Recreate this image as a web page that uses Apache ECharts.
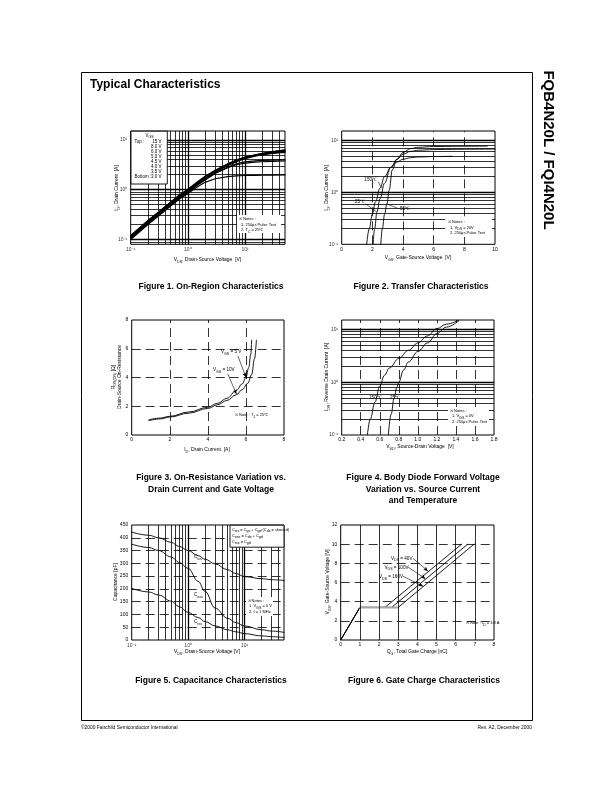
<!DOCTYPE html>
<html>
<head>
<meta charset="utf-8">
<title>FQB4N20L / FQI4N20L Typical Characteristics</title>
<script src="https://cdn.jsdelivr.net/npm/echarts@6.0.0/dist/echarts.min.js"></script>
<style>
html,body{margin:0;padding:0;background:#fff;}
#chart{width:612px;height:792px;}
</style>
</head>
<body>
<div id="chart"></div>
<script>
// ================= DATA =================
// Figure 1 : On-Region Characteristics (ID vs VDS, log-log)
const fig1Vds = [0.1,0.15,0.2,0.3,0.5,0.7,1,1.5,2,3,5,7,10,15,20,30,50];
const fig1Id_15V  = [0.12,0.18,0.24,0.35,0.56,0.77,1.02,1.45,1.85,2.45,3.3,3.9,4.5,5.0,5.35,5.8,6.3];
const fig1Id_8V   = [0.118,0.176,0.235,0.345,0.55,0.76,1.0,1.42,1.8,2.4,3.25,3.85,4.45,4.95,5.3,5.7,6.15];
const fig1Id_6V   = [0.115,0.172,0.23,0.34,0.54,0.74,0.98,1.39,1.76,2.35,3.2,3.8,4.4,4.9,5.2,5.6,6.0];
const fig1Id_5V   = [0.112,0.168,0.225,0.33,0.53,0.72,0.95,1.35,1.7,2.3,3.1,3.7,4.3,4.8,5.1,5.45,5.8];
const fig1Id_4_5V = [0.11,0.165,0.22,0.32,0.52,0.7,0.93,1.32,1.66,2.25,3.05,3.6,4.2,4.7,5.0,5.3,5.6];
const fig1Id_4V   = [0.108,0.16,0.215,0.31,0.5,0.68,0.9,1.28,1.6,2.15,2.85,3.3,3.6,3.78,3.85,3.9,3.95];
const fig1Id_3_5V = [0.105,0.157,0.21,0.305,0.49,0.67,0.88,1.25,1.56,2.1,2.75,3.15,3.4,3.55,3.62,3.7,3.75];
const fig1Id_3V   = [0.1,0.15,0.2,0.29,0.47,0.64,0.84,1.15,1.4,1.65,1.83,1.89,1.92,1.94,1.95,1.96,1.97];
const fig1LegendVgs = ['15 V','8.0 V','6.0 V','5.0 V','4.5 V','4.0 V','3.5 V','3.0 V'];
const fig1XTicks = [0.1,1,10];
const fig1YTicks = [0.1,1,10];
const decadeLabels = ['10\u207B\u00B9','10\u2070','10\u00B9'];
const fig1GridX = [0.2,0.3,0.4,0.5,0.6,0.7,0.8,0.9,1,2,3,4,5,6,7,8,9,10,20,30,40];
const fig1GridY = [0.09,0.1,0.2,0.3,0.4,0.5,0.6,0.7,0.8,0.9,1,2,3,4,5,6,7,8,9,10];

// Figure 2 : Transfer Characteristics (ID vs VGS)
const fig2Vgs_150C = [1.63,1.8,2.0,2.2,2.5,2.8,3.2,3.6,4.0,4.5,5.0,6.0,7.2];
const fig2Id_150C  = [0.1,0.2,0.38,0.65,1.2,2.0,3.0,3.8,4.3,4.6,4.75,4.85,4.9];
const fig2Vgs_25C  = [2.05,2.15,2.3,2.5,2.8,3.2,3.6,4.0,4.5,5.0,6.0,8.0,10.0];
const fig2Id_25C   = [0.1,0.2,0.42,0.75,1.5,3.0,4.3,5.4,6.1,6.4,6.6,6.7,6.75];
const fig2Vgs_m55C = [2.55,2.65,2.8,2.95,3.1,3.3,3.6,4.0,4.5,5.0,6.0,8.0,9.5];
const fig2Id_m55C  = [0.1,0.2,0.38,0.6,1.1,2.7,4.3,5.8,6.9,7.3,7.55,7.65,7.7];
const fig2XTicks = [0,2,4,6,8,10];
const fig2GridX = [2,4,6,8];
const fig2GridY = [0.2,0.3,0.4,0.5,0.6,0.7,0.8,0.9,1,2,3,4,5,6,7,8,9,10];

// Figure 3 : On-Resistance vs Drain Current
const fig3Id_5V  = [0.9,1.5,2,3,4,4.5,5,5.5,5.8,6.0,6.15,6.25,6.3];
const fig3R_5V   = [1.05,1.18,1.3,1.6,1.93,2.2,2.55,3.1,3.55,4.0,4.7,5.6,6.6];
const fig3Id_10V = [0.9,1.5,2,3,4,4.5,5,5.5,5.8,6.1,6.3,6.45,6.55];
const fig3R_10V  = [1.0,1.12,1.25,1.52,1.85,2.1,2.4,2.8,3.15,3.6,4.2,5.3,6.6];
const fig3GridX = [2,4,6];
const fig3GridY = [2,4,6];

// Figure 4 : Body Diode Forward Voltage
const fig4Vsd_150C = [0.47,0.5,0.55,0.6,0.65,0.7,0.8,0.9,1.0,1.1,1.2,1.3,1.43];
const fig4Idr_150C = [0.1,0.2,0.42,0.85,1.35,1.85,2.8,4.0,5.5,7.5,10.3,12.5,15];
const fig4Vsd_25C  = [0.69,0.72,0.75,0.78,0.8,0.85,0.9,1.0,1.1,1.2,1.3,1.43];
const fig4Idr_25C  = [0.1,0.25,0.5,0.8,1.0,1.7,2.4,3.8,5.5,8.3,11.0,14.5];
const fig4GridX = [0.4,0.6,0.8,1.0,1.2,1.4,1.6];
const fig4GridY = [0.2,0.3,0.4,0.5,0.6,0.7,0.8,0.9,1,2,3,4,5,6,7,8,9,10];

// Figure 5 : Capacitance Characteristics
const fig5Vds  = [0.1,0.2,0.3,0.5,0.7,1,1.5,2,3,5,7,10,20,30,50];
const fig5Ciss = [422,410,400,382,366,350,330,316,298,275,260,248,240,236,233];
const fig5Coss = [375,362,350,325,303,280,230,190,125,85,68,55,40,35,30];
const fig5Crss = [202,188,176,152,130,108,88,72,55,40,32,25,16,13,10];
const fig5XTicks = [0.1,1,10];
const fig5GridX = [0.2,0.3,0.4,0.5,0.6,0.7,0.8,0.9,1,2,3,4,5,6,7,8,9,10,20,30,40];
const fig5GridY = [50,100,150,200,250,300,350,400];

// Figure 6 : Gate Charge Characteristics
const fig6Qg_40V   = [0,1.0,2.31,6.31];
const fig6Vgs_40V  = [0,3.4,3.4,10];
const fig6Qg_100V  = [0,1.0,2.66,6.63];
const fig6Vgs_100V = [0,3.4,3.4,10];
const fig6Qg_160V  = [0,1.0,3.0,6.96];
const fig6Vgs_160V = [0,3.4,3.4,10];
const fig6PlateauQ = [1.0,3.0];
const fig6PlateauV = [3.4,3.4];
const fig6GridX = [1,2,3,4,5,6,7];
const fig6GridY = [2,4,6,8,10];

// ================= BUILD =================
const F = "'Liberation Sans', Arial, Helvetica, sans-serif";
const DASH = [9,5];
const TICKFONT = 5;
const zip = (xs, ys) => xs.map((x, i) => [x, ys[i]]);
const isDecade = v => Math.abs(Math.log10(v) - Math.round(Math.log10(v))) < 1e-9;

const grids = [
  {left:130.7, top:131, width:154.3, height:113.3},
  {left:341.7, top:131, width:153.3, height:113.3},
  {left:131.7, top:320, width:152.3, height:115},
  {left:341.7, top:320, width:152.3, height:115},
  {left:131.7, top:525, width:152.3, height:115},
  {left:340.7, top:525, width:153.3, height:115}
].map(g => Object.assign({show:true, borderColor:'#000', borderWidth:1, backgroundColor:'transparent', containLabel:false}, g));

const hidden = {axisLine:{show:false}, axisTick:{show:false}, splitLine:{show:false}};
const lbl = (extra) => Object.assign({show:true, color:'#000', fontSize:TICKFONT, fontFamily:F, margin:2.5}, extra||{});

const xAxis = [
  Object.assign({type:'log', logBase:10, min:0.1, max:50, gridIndex:0, axisLabel:{show:false}}, hidden),
  Object.assign({type:'value', min:0, max:10, interval:2, gridIndex:1, axisLabel:lbl()}, hidden),
  Object.assign({type:'value', min:0, max:8, interval:2, gridIndex:2, axisLabel:lbl()}, hidden),
  Object.assign({type:'value', min:0.2, max:1.8, interval:0.2, gridIndex:3, axisLabel:lbl({formatter: v => v.toFixed(1)})}, hidden),
  Object.assign({type:'log', logBase:10, min:0.1, max:50, gridIndex:4, axisLabel:{show:false}}, hidden),
  Object.assign({type:'value', min:0, max:8, interval:1, gridIndex:5, axisLabel:lbl()}, hidden)
];
const yAxis = [
  Object.assign({type:'log', logBase:10, min:0.08, max:15, gridIndex:0, axisLabel:{show:false}}, hidden),
  Object.assign({type:'log', logBase:10, min:0.1, max:15, gridIndex:1, axisLabel:{show:false}}, hidden),
  Object.assign({type:'value', min:0, max:8, interval:2, gridIndex:2, axisLabel:lbl({margin:3.5})}, hidden),
  Object.assign({type:'log', logBase:10, min:0.1, max:15, gridIndex:3, axisLabel:{show:false}}, hidden),
  Object.assign({type:'value', min:0, max:450, interval:50, gridIndex:4, axisLabel:lbl({margin:3.5})}, hidden),
  Object.assign({type:'value', min:0, max:12, interval:2, gridIndex:5, axisLabel:lbl({margin:3.5})}, hidden)
];

const series = [];
function gridLines(gi, xs, ys, xDashed, yDashed, logX, logY) {
  const data = [];
  xs.forEach(v => data.push({xAxis:v, lineStyle:{color:'#000', type: xDashed ? DASH : 'solid', width: (logX && isDecade(v)) ? 1.3 : 0.8}}));
  ys.forEach(v => data.push({yAxis:v, lineStyle:{color:'#000', type: yDashed ? DASH : 'solid', width: (logY && isDecade(v)) ? 1.3 : 0.8}}));
  series.push({type:'line', xAxisIndex:gi, yAxisIndex:gi, data:[], silent:true, z:1, animation:false,
    markLine:{silent:true, animation:false, symbol:['none','none'], label:{show:false}, emphasis:{disabled:true}, data}});
}
function curve(gi, xs, ys, opt) {
  opt = opt || {};
  series.push({type:'line', xAxisIndex:gi, yAxisIndex:gi, data:zip(xs, ys), symbol:'none', silent:true, z:3,
    smooth: opt.smooth === false ? false : (opt.smooth || 0.4), smoothMonotone: 'x', animation:false, clip:true,
    lineStyle:{color: opt.color || '#000', width: opt.width || 0.9, join:'round', cap:'round'}});
}
function tickLabels(gi, pts, labels, pos, dist) {
  series.push({type:'scatter', xAxisIndex:gi, yAxisIndex:gi, symbolSize:1, silent:true, z:4, clip:false, animation:false,
    itemStyle:{color:'rgba(0,0,0,0)'},
    data: pts.map((p, i) => ({value:p, label:{formatter: labels[i]}})),
    label:{show:true, position:pos, distance:dist, color:'#000', fontSize:TICKFONT, fontFamily:F}});
}
function pointers(gi, segs, arrow) {
  series.push({type:'line', xAxisIndex:gi, yAxisIndex:gi, data:[], silent:true, z:5, animation:false,
    markLine:{silent:true, animation:false, label:{show:false}, emphasis:{disabled:true},
      symbol:['none', arrow ? 'arrow' : 'none'], symbolSize:[3,4.5],
      lineStyle:{color:'#000', width:0.6, type:'solid'},
      data: segs.map(s => [{coord:s[0]}, {coord:s[1]}])}});
}

// Figure 1
gridLines(0, fig1GridX, fig1GridY, false, false, true, true);
[fig1Id_15V, fig1Id_8V, fig1Id_6V, fig1Id_5V, fig1Id_4_5V, fig1Id_4V, fig1Id_3_5V, fig1Id_3V]
  .forEach(ys => curve(0, fig1Vds, ys, {width:1.2, smooth:false}));
tickLabels(0, fig1XTicks.map(v => [v, 0.08]), decadeLabels, 'bottom', 2.5);
tickLabels(0, fig1YTicks.map(v => [0.1, v]), decadeLabels, 'left', 3);

// Figure 2
gridLines(1, fig2GridX, fig2GridY, true, false, false, true);
curve(1, fig2Vgs_150C, fig2Id_150C);
curve(1, fig2Vgs_25C, fig2Id_25C);
curve(1, fig2Vgs_m55C, fig2Id_m55C);
tickLabels(1, [[0,0.1],[0,1],[0,10]], decadeLabels, 'left', 3);
pointers(1, [[[2.39,1.59],[2.6,1.19]], [[1.55,0.6],[2.28,0.42]], [[2.93,0.6],[3.66,0.49]]], false);

// Figure 3
gridLines(2, fig3GridX, fig3GridY, true, true, false, false);
curve(2, fig3Id_5V, fig3R_5V);
curve(2, fig3Id_10V, fig3R_10V);
pointers(2, [[[5.58,5.5],[6.0,4.02]], [[5.05,4.25],[5.5,2.85]]], true);

// Figure 4
gridLines(3, fig4GridX, fig4GridY, true, false, false, true);
curve(3, fig4Vsd_150C, fig4Idr_150C);
curve(3, fig4Vsd_25C, fig4Idr_25C);
tickLabels(3, [[0.2,0.1],[0.2,1],[0.2,10]], decadeLabels, 'left', 3);

// Figure 5
gridLines(4, fig5GridX, fig5GridY, false, true, true, false);
curve(4, fig5Vds, fig5Ciss);
curve(4, fig5Vds, fig5Coss);
curve(4, fig5Vds, fig5Crss);
tickLabels(4, fig5XTicks.map(v => [v, 0]), decadeLabels, 'bottom', 2.5);

// Figure 6
gridLines(5, fig6GridX, fig6GridY, false, true, false, false);
curve(5, fig6Qg_40V, fig6Vgs_40V, {smooth:false});
curve(5, fig6Qg_100V, fig6Vgs_100V, {smooth:false});
curve(5, fig6Qg_160V, fig6Vgs_160V, {smooth:false});
curve(5, fig6PlateauQ, fig6PlateauV, {smooth:false, color:'#a8a8a8', width:2});
pointers(5, [[[3.78,8.5],[4.55,7.2]], [[3.52,7.6],[4.42,6.4]], [[3.26,6.65],[4.3,5.6]]], true);

// ================= TEXT / FRAME (graphic) =================
const RICH = {s:{fontSize:3.6, lineHeight:4, verticalAlign:'bottom', fontFamily:F, fill:'#000'}};
function T(x, y, text, o) {
  o = o || {};
  return {type:'text', x, y, z:100, silent:true, rotation:o.rot || 0,
    style:{text, fill:'#000', fontFamily:F, fontSize:o.size || 5, fontWeight:o.bold ? 'bold' : 'normal',
      align:o.align || 'left', verticalAlign:'middle', lineHeight:o.lh || 7, rich:RICH}};
}
function R(x, y, w, h, stroke) {
  return {type:'rect', z:90, silent:true, shape:{x, y, width:w, height:h},
    style:{fill:'#fff', stroke: stroke ? '#000' : null, lineWidth: stroke ? 0.9 : 0}};
}
const HALF = Math.PI / 2;
const g = [];
// page frame & titles
g.push({type:'rect', z:100, silent:true, shape:{x:81.5, y:72.5, width:451, height:648}, style:{fill:null, stroke:'#000', lineWidth:1}});
g.push(T(90, 85, 'Typical Characteristics', {size:12, bold:true}));
g.push(T(548, 150, 'FQB4N20L / FQI4N20L', {size:15, bold:true, align:'center', rot:-HALF}));
g.push(T(81, 728, '\u00A92000 Fairchild Semiconductor International', {size:4.9}));
g.push(T(532, 728, 'Rev. A2, December 2000', {size:4.9, align:'right'}));

// captions
const CAP = {size:8.5, bold:true, align:'center'};
g.push(T(211, 287, 'Figure 1. On-Region Characteristics', CAP));
g.push(T(421, 287, 'Figure 2. Transfer Characteristics', CAP));
g.push(T(211, 478, 'Figure 3. On-Resistance Variation vs.', CAP));
g.push(T(211, 489.5, 'Drain Current and Gate Voltage', CAP));
g.push(T(423, 478, 'Figure 4. Body Diode Forward Voltage', CAP));
g.push(T(423, 489.5, 'Variation vs. Source Current', CAP));
g.push(T(423, 501, 'and Temperature', CAP));
g.push(T(211, 681, 'Figure 5. Capacitance Characteristics', CAP));
g.push(T(424, 681, 'Figure 6. Gate Charge Characteristics', CAP));

// axis titles
const AX = {size:5, align:'center'};
const AY = {size:5, align:'center', rot:HALF};
g.push(T(207.5, 260, 'V{s|DS}, Drain-Source Voltage  [V]', AX));
g.push(T(117, 188, 'I{s|D}, Drain Current  [A]', AY));
g.push(T(418, 258, 'V{s|GS}, Gate-Source Voltage  [V]', AX));
g.push(T(327, 188, 'I{s|D}, Drain Current  [A]', AY));
g.push(T(207, 450, 'I{s|D}, Drain Current  [A]', AX));
g.push(T(113.5, 377, 'R{s|DS(ON)} [\u03A9]', AY));
g.push(T(119.5, 377, 'Drain-Source On-Resistance', AY));
g.push(T(420, 447, 'V{s|SD}, Source-Drain Voltage  [V]', AX));
g.push(T(327, 377, 'I{s|DR}, Reverse Drain Current  [A]', AY));
g.push(T(207, 652, 'V{s|DS}, Drain-Source Voltage [V]', AX));
g.push(T(116, 582, 'Capacitance [pF]', AY));
g.push(T(417, 652, 'Q{s|G}, Total Gate Charge [nC]', AX));
g.push(T(328, 582, 'V{s|GS}, Gate-Source Voltage [V]', AY));

// Figure 1 legend + notes
g.push(R(131, 131.2, 36.3, 52.8, true));
g.push(T(149.5, 135.5, 'V{s|GS}', {size:4.5, align:'center'}));
g.push(T(134.5, 141.5, 'Top :', {size:4.5}));
g.push(T(134.5, 177.2, 'Bottom :', {size:4.5}));
fig1LegendVgs.forEach((t, i) => g.push(T(161.5, 141.5 + i * 5.1, t, {size:4.5, align:'right'})));
g.push(R(237, 215, 44, 18, false));
g.push(T(239, 219, '\u203B Notes :', {size:4}));
g.push(T(241, 224.5, '1. 250\u03BCs Pulse Test', {size:4}));
g.push(T(241, 230, '2. T{s|C} = 25\u2103', {size:4}));

// Figure 2 labels + notes
g.push(T(377, 180, '150\u2103', {size:4.6, align:'right'}));
g.push(T(365, 201.5, '25\u2103', {size:4.6, align:'right'}));
g.push(T(398.5, 208.5, '-55\u2103', {size:4.6}));
g.push(R(445, 218, 47, 19, false));
g.push(T(448, 222, '\u203B Notes :', {size:4}));
g.push(T(450, 227.5, '1. V{s|DS} = 20V', {size:4}));
g.push(T(450, 233, '2. 250\u03BCs Pulse Test', {size:4}));

// Figure 3 labels
g.push(T(221, 352, 'V{s|GS} = 5 V', {size:4.6}));
g.push(T(213, 370, 'V{s|GS} = 10V', {size:4.6}));
g.push(T(235, 415, '\u203B Note : T{s|J} = 25\u2103', {size:4}));

// Figure 4 labels + notes
g.push(T(369, 397.5, '150\u2103', {size:4.6}));
g.push(T(390, 397.5, '25\u2103', {size:4.6}));
g.push(R(448, 407, 41, 19, false));
g.push(T(450, 410.5, '\u203B Notes :', {size:4}));
g.push(T(452, 416, '1. V{s|GS} = 0V', {size:4}));
g.push(T(452, 421.5, '2. 250\u03BCs Pulse Test', {size:4}));

// Figure 5 legend, labels, notes
g.push(R(230, 525.2, 54, 22, true));
g.push(T(232, 529.5, 'C{s|iss} = C{s|gs} + C{s|gd} (C{s|ds} = shorted)', {size:3.9}));
g.push(T(232, 535.5, 'C{s|oss} = C{s|ds} + C{s|gd}', {size:3.9}));
g.push(T(232, 541.5, 'C{s|rss} = C{s|gd}', {size:3.9}));
g.push(T(194, 557, 'C{s|iss}', {size:4.6}));
g.push(T(194, 595, 'C{s|oss}', {size:4.6}));
g.push(T(194, 622, 'C{s|rss}', {size:4.6}));
g.push(R(246, 597, 27, 19, false));
g.push(T(247.5, 600.5, '\u203B Notes :', {size:4}));
g.push(T(249, 606, '1. V{s|GS} = 0 V', {size:4}));
g.push(T(249, 611.5, '2. f = 1 MHz', {size:4}));

// Figure 6 labels
g.push(T(391, 558.5, 'V{s|DS} = 40V', {size:4.6}));
g.push(T(384.5, 567.5, 'V{s|DS} = 100V', {size:4.6}));
g.push(T(379, 577, 'V{s|DS} = 160V', {size:4.6}));
g.push(T(466, 623, '\u203B Note : I{s|D} = 3.8 A', {size:4}));

const chart = echarts.init(document.getElementById('chart'), null, {renderer:'canvas', width:612, height:792});
chart.setOption({
  animation:false,
  backgroundColor:'#fff',
  textStyle:{fontFamily:F},
  grid:grids, xAxis, yAxis, series,
  graphic:{elements:g}
});
</script>
</body>
</html>
